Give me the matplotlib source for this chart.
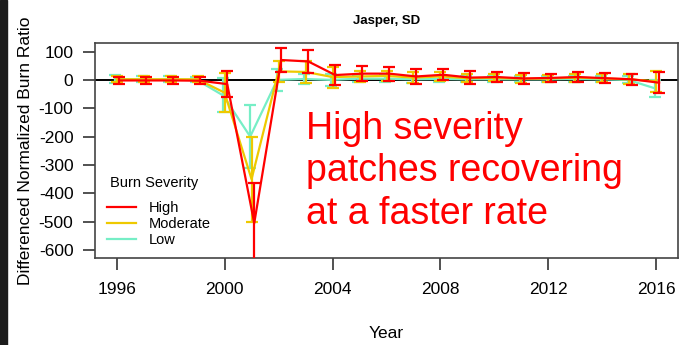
import numpy as np
import matplotlib
matplotlib.use('Agg')
import matplotlib.pyplot as plt
from matplotlib.patches import Rectangle

plt.rcParams['font.family'] = ['Liberation Sans', 'DejaVu Sans']
plt.rcParams['axes.unicode_minus'] = False

# dNBR recovery by burn severity, Jasper fire (SD)
years = np.arange(1996, 2017)

high_mean = [-2, -2, -2, -3, -15, -505, 70, 65, 17, 22, 22, 12, 18, 8, 10, 5, 7, 10, 6, 2, -10]
high_err = [12, 12, 12, 12, 45, 140, 42, 42, 35, 27, 25, 25, 20, 22, 16, 18, 14, 18, 17, 20, 37]

moderate_mean = [2, 2, 2, 2, -45, -350, 30, 28, 10, 12, 14, 8, 12, 6, 7, 4, 5, 8, 5, 2, -5]
moderate_err = [10, 10, 10, 10, 68, 150, 38, 38, 37, 20, 18, 18, 16, 15, 12, 14, 12, 14, 14, 18, 37]

low_mean = [3, 2, 2, 1, -55, -200, 0, 3, 0, 4, 4, 2, 3, 2, 2, 2, 2, 3, 2, 0, -30]
low_err = [15, 10, 10, 10, 60, 110, 38, 16, 22, 12, 12, 12, 12, 10, 10, 10, 10, 10, 10, 12, 30]

severity = ['High', 'Moderate', 'Low']
colors = {'High': '#FF0000', 'Moderate': '#EEC900', 'Low': '#76EEC6'}
offsets = {'High': 0.1, 'Moderate': 0.0, 'Low': -0.05}
series = {'High': (high_mean, high_err),
          'Moderate': (moderate_mean, moderate_err),
          'Low': (low_mean, low_err)}

fig = plt.figure(figsize=(6.84, 3.45), dpi=100)
ax = fig.add_axes([95/684, 87/345, 583/684, 215/345])

# dark strip down the left edge
fig.patches.append(Rectangle((0, 0), 7/684, 1, transform=fig.transFigure,
                             color='#1c1c1c', zorder=0))

ax.axhline(0, color='black', lw=1.4, zorder=1)

handles = {}
for name in ['Low', 'Moderate', 'High']:
    m, e = series[name]
    h, = ax.plot(years + offsets[name], m, color=colors[name], lw=1.6, zorder=3)
    ax.errorbar(years + offsets[name], m, yerr=e, fmt='none', ecolor=colors[name],
                elinewidth=1.6, capsize=4, capthick=1.6, zorder=3)
    handles[name] = h

ax.set_xlim(1995.2, 2016.8)
ax.set_ylim(-628, 130)
ax.set_xticks(np.arange(1996, 2017, 4))
ax.set_yticks(np.arange(-600, 101, 100))
ax.tick_params(axis='both', labelsize=12.5, length=8.5, width=1.2,
               color='#333333', pad=7)
ax.tick_params(axis='x', pad=9)
for s in ax.spines.values():
    s.set_color('#444444')
    s.set_linewidth(1.2)

ax.set_title('Jasper, SD', fontsize=9.5, fontweight='bold', pad=14)
ax.set_xlabel('Year', fontsize=12.5, labelpad=21)
ax.set_ylabel('Differenced Normalized Burn Ratio', fontsize=12.5, labelpad=4)

# legend with its heading drawn separately
ax.text(0.026, 0.347, 'Burn Severity', transform=ax.transAxes, fontsize=10.5,
        ha='left', va='center')
ax.legend([handles[n] for n in severity], severity,
          loc='upper left', bbox_to_anchor=(0.010, 0.293), borderaxespad=0,
          frameon=False, fontsize=10.5, handlelength=2.0,
          handletextpad=0.9, labelspacing=0.15)

ax.text(2003.0, -108, 'High severity\npatches recovering\nat a faster rate',
        color='#FF0000', fontsize=27, va='top', ha='left', linespacing=1.24)

fig.savefig('out.png', dpi=100)
